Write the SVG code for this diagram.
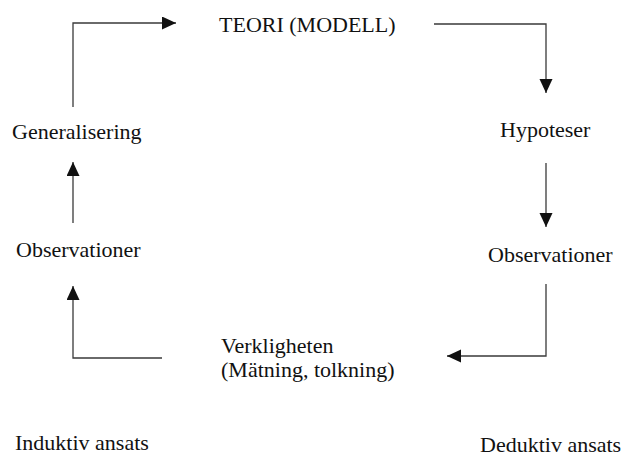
<svg xmlns="http://www.w3.org/2000/svg" width="622" height="456" viewBox="0 0 622 456">
<style>
  .lbl { font-family: "Liberation Serif", "Times New Roman", serif; font-size: 22px; fill: #111; }
  .conn { fill: none; stroke: #3a3a3a; stroke-width: 1.3; }
</style>
<defs>
  <marker id="arr" markerUnits="userSpaceOnUse" markerWidth="15" markerHeight="14" refX="14" refY="6.5" orient="auto">
    <path d="M0,0 L14,6.5 L0,13 z" fill="#111"/>
  </marker>
</defs>
<rect width="622" height="456" fill="#fff"/>
<g id="connectors">
  <path class="conn" d="M73,107 V23 H176" marker-end="url(#arr)"/>
  <path class="conn" d="M434,24 H546 V93" marker-end="url(#arr)"/>
  <path class="conn" d="M546,163 V227" marker-end="url(#arr)"/>
  <path class="conn" d="M546,284 V356 H447" marker-end="url(#arr)"/>
  <path class="conn" d="M162,358 H73 V286" marker-end="url(#arr)"/>
  <path class="conn" d="M73,223 V162" marker-end="url(#arr)"/>
</g>
<g id="teori"><text class="lbl" x="219" y="32">TEORI (MODELL)</text></g>
<g id="hypoteser"><text class="lbl" x="500" y="137">Hypoteser</text></g>
<g id="generalisering"><text class="lbl" x="12" y="139">Generalisering</text></g>
<g id="observationer-left"><text class="lbl" x="16" y="257">Observationer</text></g>
<g id="observationer-right"><text class="lbl" x="488" y="262">Observationer</text></g>
<g id="verkligheten">
  <text class="lbl" x="221" y="353">Verkligheten</text>
  <text class="lbl" x="221" y="377">(Mätning, tolkning)</text>
</g>
<g id="induktiv"><text class="lbl" x="15" y="450">Induktiv ansats</text></g>
<g id="deduktiv"><text class="lbl" x="480" y="452">Deduktiv ansats</text></g>
</svg>
